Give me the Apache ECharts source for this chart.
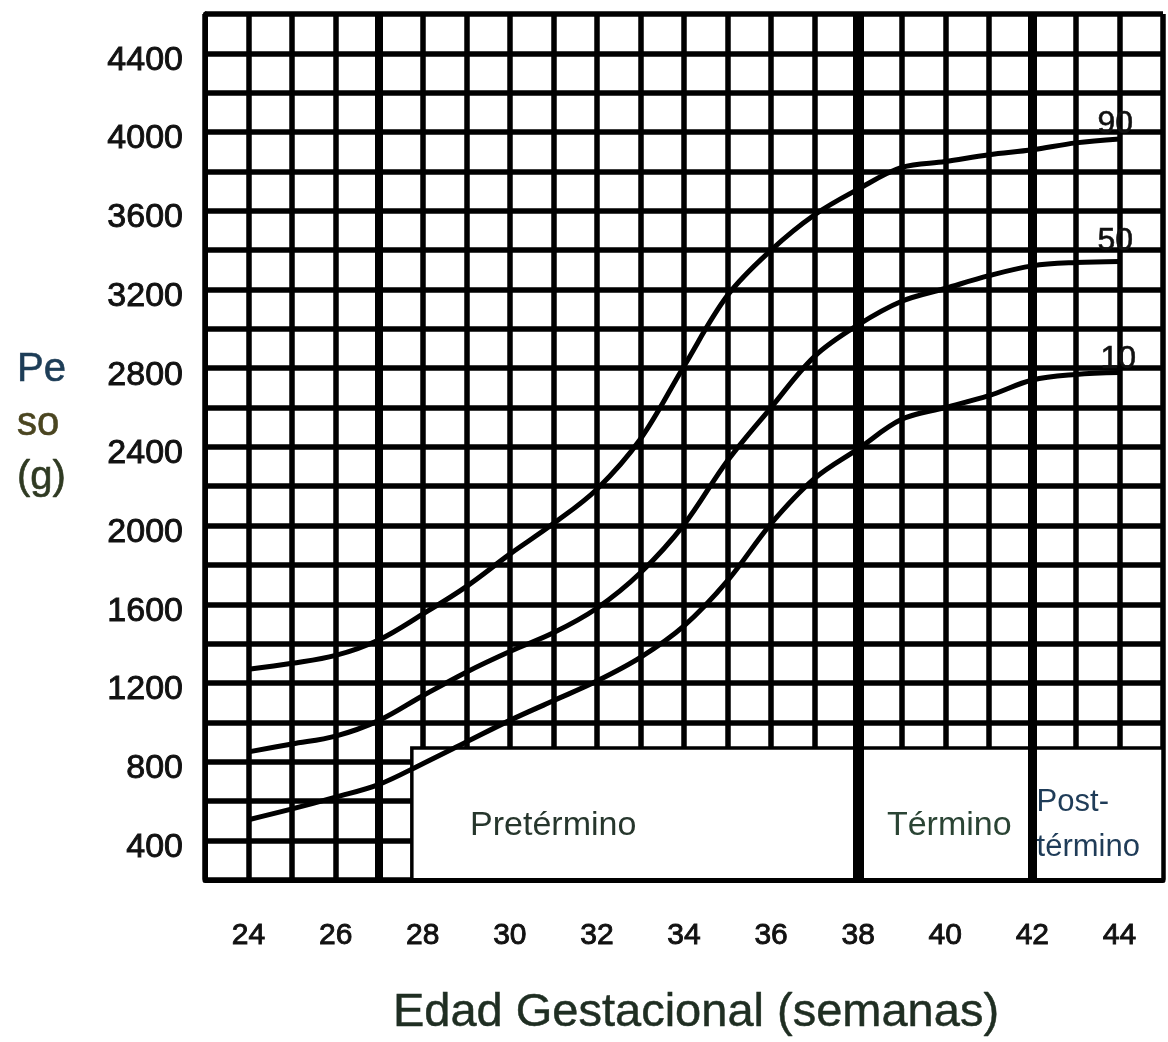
<!DOCTYPE html>
<html><head><meta charset="utf-8">
<script src="https://cdn.jsdelivr.net/npm/echarts@6/dist/echarts.min.js"></script>
<style>html,body{margin:0;padding:0;background:#fff}#c{width:1168px;height:1042px}</style>
</head><body><div id="c"></div>
<script>
// ---- data ----
const weeks = [24,25,26,27,28,29,30,31,32,33,34,35,36,37,38,39,40,41,42,43,44];
const p90 = [1270,1300,1340,1420,1550,1690,1855,2010,2185,2440,2810,3170,3400,3580,3710,3820,3850,3885,3910,3945,3965];
const p50 = [850,890,930,1010,1135,1255,1360,1455,1580,1760,2005,2330,2600,2860,3020,3140,3205,3270,3320,3337,3342];
const p10 = [505,560,620,685,790,900,1010,1110,1210,1330,1490,1720,2010,2240,2390,2540,2600,2660,2740,2768,2778];
const percentileNames = ['90','50','10'];
const xTickLabels = [24,26,28,30,32,34,36,38,40,42,44];
const yTickLabels = [400,800,1200,1600,2000,2400,2800,3200,3600,4000,4400];
const markerWeeks = [27,38,42];
const zoneNames = ['Pretérmino','Término','Post-\ntérmino'];
const zoneStart = [27.75,38,42];
const zoneEnd = [38,42,45];
const zoneTop = 870;
const xMin = 23, xMax = 45, yMin = 200, yMax = 4600;

// ---- chart ----
const chart = echarts.init(document.getElementById('c'), null, {renderer:'canvas'});
const FONT = '"Liberation Sans", Arial, sans-serif';
const ink = '#111';
const endLabelOffsets = [[-30,-15],[-30,-20],[-27,-13]];

function curve(name, values, k){
  return {
    name: name, type: 'line', z: 2,
    data: weeks.map((w,i)=>[w, values[i]]),
    smooth: 0.35, symbol: 'none', silent: true,
    lineStyle: {color: '#000', width: 5},
    endLabel: {show: true, formatter: name, fontFamily: FONT, fontSize: 32, color: ink,
               textBorderColor: ink, textBorderWidth: 0.6, offset: endLabelOffsets[k]}
  };
}

const zoneLabelStyles = [
  {position: 'insideLeft', distance: 60, offset: [0, 12], align: 'left'},
  {position: 'inside', offset: [4, 12], align: 'center'},
  {position: 'insideLeft', distance: 6, offset: [0, 11], lineHeight: 45, align: 'left', fontSize: 31}
];
const zoneColors = ['#26362c','#2a4434','#1f3c58'];
const markerWidths = [8, 11, 9];

const option = {
  backgroundColor: '#fff',
  animation: false,
  title: {
    text: '{a|Pe}\n{b|so}\n{c|(g)}',
    left: 12, top: 338,
    textStyle: {
      rich: {
        a: {fontFamily: FONT, fontSize: 40, fontWeight: 'normal', color: '#1d3d57', lineHeight: 54, textBorderColor: '#1d3d57', textBorderWidth: 0.6},
        b: {fontFamily: FONT, fontSize: 40, fontWeight: 'normal', color: '#4a4520', lineHeight: 54, textBorderColor: '#4a4520', textBorderWidth: 0.6},
        c: {fontFamily: FONT, fontSize: 40, fontWeight: 'normal', color: '#2f3a22', lineHeight: 54, textBorderColor: '#2f3a22', textBorderWidth: 0.6}
      }
    }
  },
  grid: {left: 205, right: 5, top: 14, bottom: 161},
  xAxis: {
    type: 'value', min: xMin, max: xMax, interval: 1,
    name: 'Edad Gestacional (semanas)', nameLocation: 'middle', nameGap: 110,
    nameTextStyle: {fontFamily: FONT, fontSize: 47, color: '#1f2e22', padding: [0, 0, 0, 24],
                    textBorderColor: '#1f2e22', textBorderWidth: 0.5},
    axisLine: {show: true, lineStyle: {color: '#000', width: 5}},
    axisTick: {show: false},
    axisLabel: {
      margin: 41, fontFamily: FONT, fontSize: 30, color: ink,
      textBorderColor: ink, textBorderWidth: 0.9,
      formatter: v => xTickLabels.includes(v) ? String(v) : ''
    },
    splitLine: {show: true, lineStyle: {color: '#000', width: 5.5}}
  },
  yAxis: {
    type: 'value', min: yMin, max: yMax, interval: 200,
    axisLine: {show: true, lineStyle: {color: '#000', width: 5}},
    axisTick: {show: false},
    axisLabel: {
      margin: 22,
      formatter: v => yTickLabels.includes(v) ? '{v|' + v + '}' : '',
      rich: {
        v: {fontFamily: FONT, fontSize: 34, color: ink, padding: [14, 0, 0, 0],
            textBorderColor: ink, textBorderWidth: 0.9}
      }
    },
    splitLine: {show: true, lineStyle: {color: '#000', width: 5.5}}
  },
  series: [
    curve(percentileNames[0], p90, 0),
    curve(percentileNames[1], p50, 1),
    curve(percentileNames[2], p10, 2),
    {
      name: 'zones', type: 'line', z: 3, data: [], silent: true,
      markArea: {
        silent: true,
        itemStyle: {color: '#fff', borderColor: '#000', borderWidth: 3.5, opacity: 1},
        data: zoneNames.map((n,i)=>[
          {name: n, xAxis: zoneStart[i], yAxis: yMin,
           label: Object.assign({show: true, fontFamily: FONT, fontSize: 34, color: zoneColors[i]}, zoneLabelStyles[i])},
          {xAxis: zoneEnd[i], yAxis: zoneTop}
        ])
      }
    },
    {
      name: 'markers', type: 'line', z: 4, data: [], silent: true,
      markLine: {
        silent: true, symbol: 'none', animation: false,
        label: {show: false},
        data: markerWeeks.map((w,i)=>({xAxis: w, lineStyle: {color: '#000', type: 'solid', width: markerWidths[i]}}))
      }
    }
  ]
};
chart.setOption(option);
</script>
</body></html>
